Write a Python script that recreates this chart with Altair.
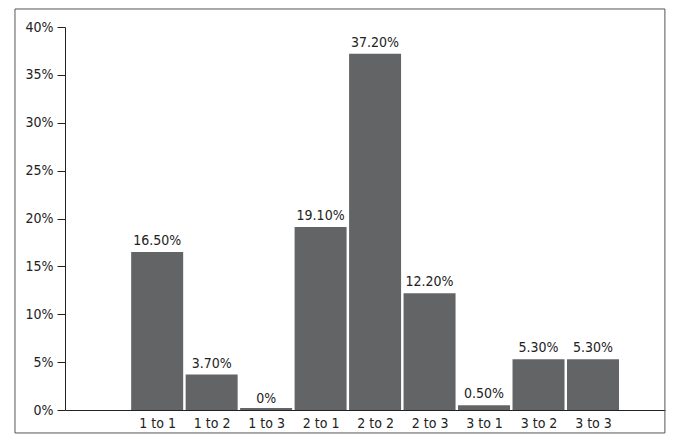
import pandas as pd
import altair as alt

labels = ["1 to 1", "1 to 2", "1 to 3", "2 to 1", "2 to 2", "2 to 3", "3 to 1", "3 to 2", "3 to 3"]
values = [16.5, 3.7, 0.0, 19.1, 37.2, 12.2, 0.5, 5.3, 5.3]
value_text = ["16.50%", "3.70%", "0%", "19.10%", "37.20%", "12.20%", "0.50%", "5.30%", "5.30%"]

df = pd.DataFrame({
    "idx": list(range(1, len(labels) + 1)),
    "label": labels,
    "value": values,
    "text": value_text,
})

FONT = "DejaVu Sans Condensed, Liberation Sans, sans-serif"
label_expr = "[" + ",".join(f"'{l}'" for l in labels) + "][datum.value - 1]"

x = alt.X("idx:Q", scale=alt.Scale(domain=[-0.6, 10.23], nice=False, zero=False),
          axis=alt.Axis(values=list(range(1, 10)), labelExpr=label_expr, title=None,
                        ticks=False, grid=False, labelFontSize=14, labelFont=FONT,
                        labelColor="#222", domainColor="#222", labelPadding=6))
y = alt.Y("value:Q", scale=alt.Scale(domain=[0, 40]),
          axis=alt.Axis(values=list(range(0, 41, 5)), labelExpr="datum.value + '%'",
                        title=None, grid=False, tickSize=8, labelFontSize=14,
                        labelFont=FONT, labelColor="#222", domainColor="#222",
                        tickColor="#222", labelPadding=4))

base = alt.Chart(df)

bars = base.mark_bar(size=52, color="#636466").encode(x=x, y=y)

# thin sliver for the 0% bar
zero_bar = base.transform_filter("datum.value == 0").mark_bar(size=52, color="#636466").encode(
    x="idx:Q", y=alt.datum(0), y2=alt.datum(0.2)
)

text = base.mark_text(dy=-11, fontSize=14, font=FONT, color="#222").encode(
    x="idx:Q", y="value:Q", text="text:N"
)

# outer frame around the whole figure
frame = alt.Chart(df.head(1)).mark_rect(
    fill="white", fillOpacity=0, stroke="#555", strokeWidth=1, clip=False
).encode(
    x=alt.datum(-1.61), x2=alt.datum(10.32), y=alt.datum(41.88), y2=alt.datum(-2.4)
)

chart = (frame + bars + zero_bar + text).properties(
    width=600, height=383,
    autosize=alt.AutoSizeParams(type="none"),
    padding={"left": 57, "top": 19, "right": 7, "bottom": 30},
).configure_view(stroke=None)

chart.save("out.html", embed_options={"renderer": "svg", "actions": False})
